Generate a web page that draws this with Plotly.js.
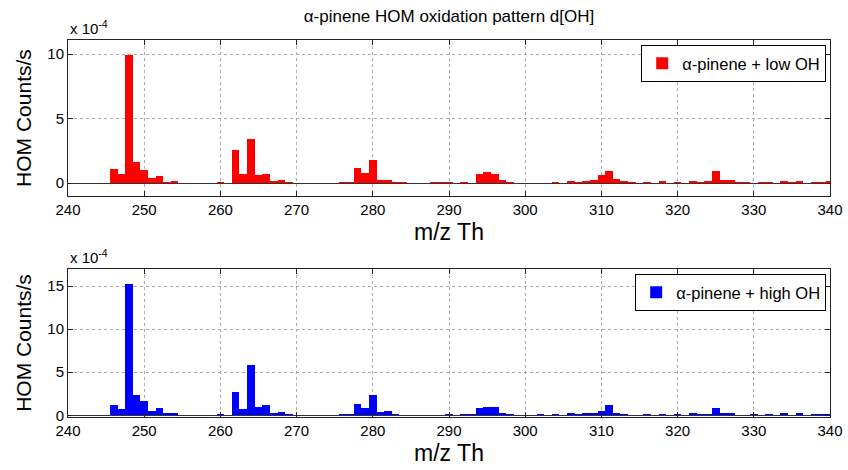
<!DOCTYPE html>
<html><head><meta charset="utf-8">
<script src="https://cdn.plot.ly/plotly-3.0.1.min.js"></script>
<style>html,body{margin:0;padding:0;background:#fff}</style>
</head><body><div id="chart" style="width:848px;height:470px"></div>
<script>
// m/z (Th) categories
const mz = [
 240,241,242,243,244,245,246,247,248,249,
 250,251,252,253,254,255,256,257,258,259,
 260,261,262,263,264,265,266,267,268,269,
 270,271,272,273,274,275,276,277,278,279,
 280,281,282,283,284,285,286,287,288,289,
 290,291,292,293,294,295,296,297,298,299,
 300,301,302,303,304,305,306,307,308,309,
 310,311,312,313,314,315,316,317,318,319,
 320,321,322,323,324,325,326,327,328,329,
 330,331,332,333,334,335,336,337,338,339,
 340];
// HOM counts/s in units of 1e-4
const lowOH = [
 0.04,0.04,0,0,0.05,0.05,1.09,0.75,9.9,1.65,
 1.03,0.41,0.52,0.13,0.18,0.04,0.04,0.03,0,0,
 0.08,0.02,2.61,0.75,3.46,0.65,0.75,0.18,0.22,0.1,
 0.05,0.05,0,0,0,0.05,0.1,0.13,1.19,0.78,
 1.76,0.26,0.26,0.1,0.1,0.05,0.05,0.04,0.1,0.06,
 0.13,0.05,0.13,0.05,0.75,0.85,0.75,0.28,0.13,0.05,
 0.04,0.04,0.03,0,0.1,0.02,0.2,0.1,0.15,0.26,
 0.65,0.93,0.34,0.2,0.1,0.05,0.1,0,0.15,0,
 0.08,0,0.15,0.1,0.18,0.96,0.28,0.28,0.13,0.08,
 0.05,0.08,0.08,0.03,0.2,0.08,0.15,0.05,0.1,0.1,
 0.2];
const highOH = [
 0.08,0.08,0.02,0.02,0.03,0.05,1.2,0.73,15.2,2.36,
 1.66,0.5,0.81,0.23,0.23,0.03,0.03,0.03,0.03,0.03,
 0.12,0.03,2.7,0.73,5.84,0.97,1.24,0.3,0.35,0.15,
 0.05,0.05,0.03,0.03,0.05,0.05,0.1,0.12,1.31,0.81,
 2.32,0.43,0.46,0.12,0.08,0.04,0.04,0.04,0.04,0.05,
 0.15,0.04,0.12,0.12,0.85,0.93,0.93,0.27,0.15,0.04,
 0.04,0.04,0.12,0.04,0.12,0.04,0.31,0.12,0.23,0.27,
 0.54,1.2,0.31,0.19,0.08,0.04,0.12,0.04,0.15,0.04,
 0.15,0.04,0.23,0.15,0.15,0.85,0.27,0.31,0.08,0.08,
 0.12,0.04,0.15,0.04,0.31,0.04,0.23,0.04,0.12,0.12,
 0.15];
const xTicks = [240,250,260,270,280,290,300,310,320,330,340];
const yTicksTop = [0,5,10];
const yTicksBottom = [0,5,10,15];

const FONT = 'Liberation Sans, Arial, sans-serif';
const traces = [
  {type:'bar', x:mz, y:lowOH, width:1, name:'\u03b1-pinene + low OH',
   marker:{color:'#ff0000', line:{width:0}}, xaxis:'x', yaxis:'y', legend:'legend'},
  {type:'bar', x:mz, y:highOH, width:1, name:'\u03b1-pinene + high OH',
   marker:{color:'#0000ff', line:{width:0}}, xaxis:'x2', yaxis:'y2', legend:'legend2'}
];
function xax(anchor){
  return {anchor:anchor, range:[240,340], tickvals:xTicks, ticktext:xTicks.map(String),
    ticks:'inside', ticklen:5, tickcolor:'#222', showline:true, linecolor:'#222', linewidth:1,
    mirror:'ticks', showgrid:true, gridcolor:'#aaa', griddash:'dot', gridwidth:1,
    zeroline:false, tickfont:{family:FONT, size:15, color:'#000'},
    title:{text:'m/z Th', font:{family:FONT, size:23, color:'#000'}, standoff:6}};
}
function yax(anchor, domain, range, tv){
  return {anchor:anchor, domain:domain, range:range, tickvals:tv, ticktext:tv.map(String),
    ticks:'inside', ticklen:5, tickcolor:'#222', showline:true, linecolor:'#222', linewidth:1,
    mirror:'ticks', showgrid:true, gridcolor:'#aaa', griddash:'dot', gridwidth:1,
    zeroline:true, zerolinecolor:'#333', zerolinewidth:1,
    tickfont:{family:FONT, size:15, color:'#000'},
    title:{text:'HOM Counts/s', font:{family:FONT, size:21, color:'#000'}, standoff:9}};
}
const layout = {
  width:848, height:470, paper_bgcolor:'#fff', plot_bgcolor:'#fff',
  margin:{l:68, r:18, t:40, b:53},
  bargap:0, showlegend:true,
  title:{text:'\u03b1-pinene HOM oxidation pattern d[OH]', font:{family:FONT, size:17, color:'#000'},
    x:0.5, xref:'paper', y:1-16/470, yref:'container', yanchor:'middle'},
  xaxis:xax('y'),
  yaxis:yax('x', [0.586,1], [-1,11.1], yTicksTop),
  xaxis2:xax('y2'),
  yaxis2:yax('x2', [0,0.3926], [-0.2,17], yTicksBottom),
  legend:{x:0.995, y:0.987, xanchor:'right', yanchor:'top', bgcolor:'#fff', bordercolor:'#000', borderwidth:1,
    font:{family:FONT, size:16.5, color:'#000'}},
  legend2:{x:0.995, y:0.379, xanchor:'right', yanchor:'top', bgcolor:'#fff', bordercolor:'#000', borderwidth:1,
    font:{family:FONT, size:16.5, color:'#000'}},
  annotations:[
    {text:'x 10<sup>-4</sup>', xref:'paper', yref:'paper', x:0, y:1, xanchor:'left', yanchor:'bottom',
     showarrow:false, font:{family:FONT, size:15, color:'#000'}, yshift:1},
    {text:'x 10<sup>-4</sup>', xref:'paper', yref:'paper', x:0, y:0.3926, xanchor:'left', yanchor:'bottom',
     showarrow:false, font:{family:FONT, size:15, color:'#000'}, yshift:1}
  ]
};
Plotly.newPlot('chart', traces, layout, {displayModeBar:false, staticPlot:true});
</script></body></html>
